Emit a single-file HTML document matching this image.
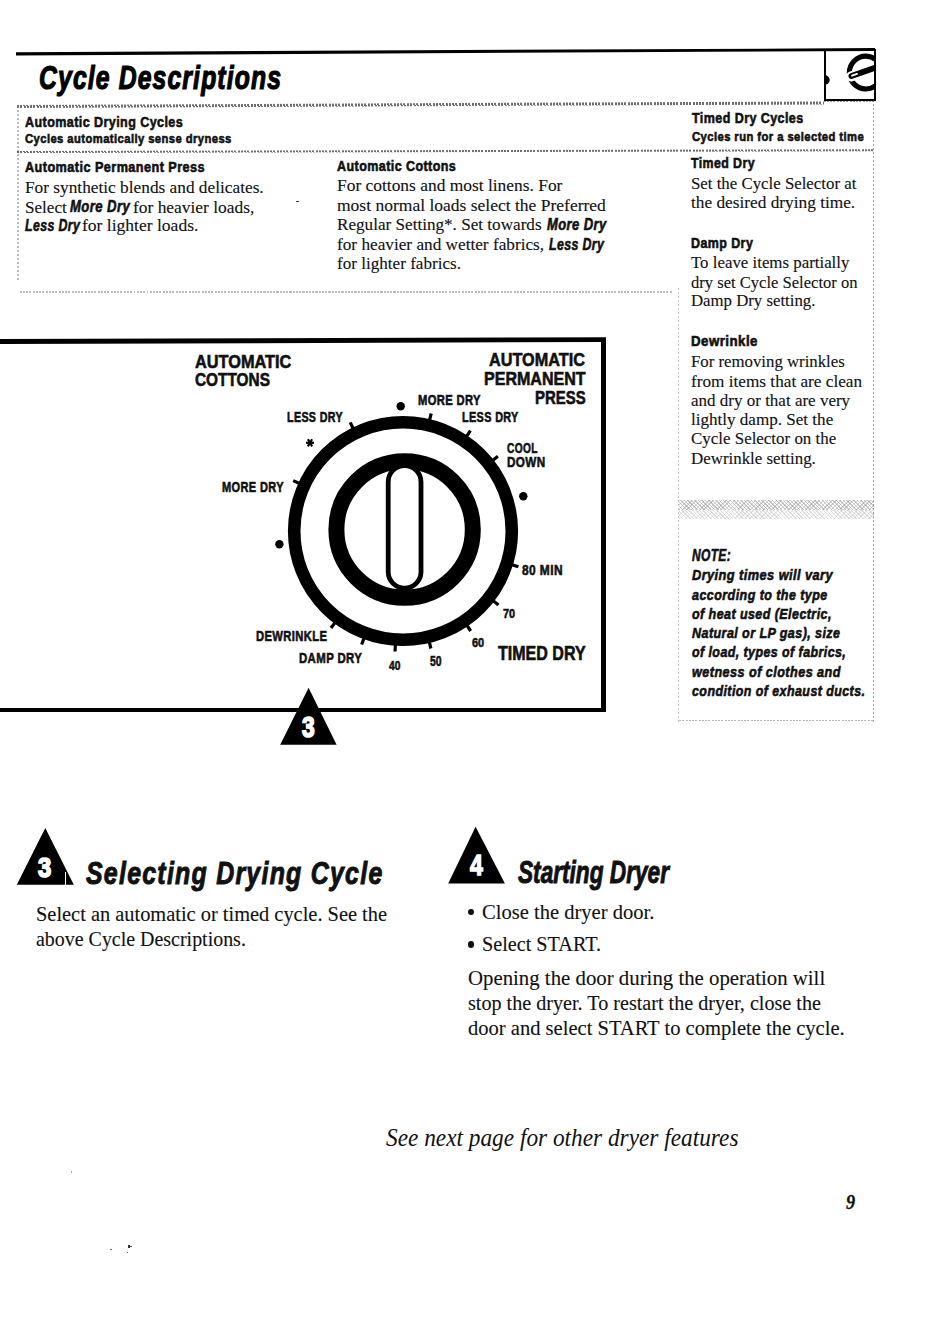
<!DOCTYPE html>
<html><head><meta charset="utf-8"><title>Cycle Descriptions</title>
<style>
html,body{margin:0;padding:0;background:#fff;}
body{width:950px;height:1343px;position:relative;overflow:hidden;}
.t{position:absolute;white-space:pre;transform-origin:0 0;}
.r{position:absolute;}
</style></head><body>
<svg class="r" style="left:0;top:0" width="950" height="120"><polygon points="16,52.2 875,48.1 875,50.9 16,55.4" fill="#000"/></svg>
<div class="r" style="left:824.2px;top:49px;width:1.6px;height:52px;background:#000;"></div>
<div class="r" style="left:873.5px;top:49px;width:2px;height:52px;background:#000;"></div>
<div class="r" style="left:824px;top:99px;width:51.5px;height:1.6px;background:#000;"></div>
<svg class="r" style="left:820px;top:45px;" width="60" height="60" viewBox="820 45 60 60">
<defs><clipPath id="cb"><rect x="826" y="50" width="48" height="49"/></clipPath></defs>
<path d="M825,75.3 A4.7,4.7 0 0 1 825,84.7 Z" fill="#000"/>
<g clip-path="url(#cb)">
<circle cx="865.8" cy="72.6" r="16.4" fill="none" stroke="#000" stroke-width="5.2"/>
<line x1="851" y1="76.5" x2="880" y2="66" stroke="#fff" stroke-width="10" stroke-linecap="round"/>
<line x1="851.5" y1="76" x2="880" y2="66" stroke="#000" stroke-width="6" stroke-linecap="round"/>
<line x1="852" y1="75.6" x2="857" y2="73.9" stroke="#fff" stroke-width="1.8" stroke-linecap="round"/>
</g></svg>
<div class="t" style="font-family:'Liberation Sans',sans-serif;font-weight:bold;font-style:italic;left:38.50px;top:62px;font-size:32.56px;line-height:32.56px;transform:scaleX(0.7597);color:#000;-webkit-text-stroke:1.2px #000;letter-spacing:1.5px;">Cycle Descriptions</div>
<div class="r" style="left:17px;top:104.5px;width:807px;height:2.5px;background:repeating-linear-gradient(90deg,rgba(60,60,60,0.75) 0 2px,transparent 2px 3px,rgba(60,60,60,0.75) 3px 5px,transparent 5px 6.5px);transform:rotate(-0.25deg);transform-origin:0 50%;"></div>
<div class="r" style="left:824px;top:100.8px;width:50px;height:1.5px;background:repeating-linear-gradient(90deg,rgba(90,90,90,0.6) 0 2px,transparent 2px 3px,rgba(90,90,90,0.6) 3px 5px,transparent 5px 6.5px);"></div>
<div class="r" style="left:17.2px;top:106px;width:1.6px;height:176px;background:repeating-linear-gradient(180deg,rgba(120,120,120,0.5) 0 2px,transparent 2px 4px);"></div>
<div class="r" style="left:17px;top:151.2px;width:857px;height:2.4px;background:repeating-linear-gradient(90deg,rgba(60,60,60,0.75) 0 2px,transparent 2px 3px,rgba(60,60,60,0.75) 3px 5px,transparent 5px 6.5px);transform:rotate(-0.12deg);transform-origin:0 50%;"></div>
<div class="r" style="left:872.6px;top:100px;width:1.8px;height:622px;background:repeating-linear-gradient(180deg,rgba(100,100,100,0.6) 0 2px,transparent 2px 4px);"></div>
<div class="r" style="left:20px;top:291px;width:652px;height:1.6px;background:repeating-linear-gradient(90deg,rgba(120,120,120,0.5) 0 2px,transparent 2px 3px,rgba(120,120,120,0.5) 3px 5px,transparent 5px 6.5px);"></div>
<div class="r" style="left:678px;top:288px;width:1.4px;height:434px;background:repeating-linear-gradient(180deg,rgba(150,150,150,0.55) 0 2px,transparent 2px 4px);"></div>
<div class="r" style="left:679px;top:719.5px;width:195px;height:1.6px;background:repeating-linear-gradient(90deg,rgba(120,120,120,0.55) 0 2px,transparent 2px 3px,rgba(120,120,120,0.55) 3px 5px,transparent 5px 6.5px);"></div>
<div class="r" style="left:679px;top:499.7px;width:195px;height:10px;background:repeating-linear-gradient(45deg,rgba(130,130,130,.42) 0 1px,transparent 1px 2.5px),repeating-linear-gradient(-45deg,rgba(140,140,140,.38) 0 1px,transparent 1px 3px);"></div>
<div class="r" style="left:679px;top:509.7px;width:195px;height:9.7px;background:repeating-linear-gradient(45deg,rgba(150,150,150,.28) 0 1px,transparent 1px 2.5px),repeating-linear-gradient(-45deg,rgba(160,160,160,.22) 0 1px,transparent 1px 3.5px);"></div>
<div class="t" style="font-family:'Liberation Sans',sans-serif;font-weight:bold;left:25.30px;top:114px;font-size:15.26px;line-height:15.26px;transform:scaleX(0.8235);color:#111;-webkit-text-stroke:0.6px #111;letter-spacing:0.5px;">Automatic Drying Cycles</div>
<div class="t" style="font-family:'Liberation Sans',sans-serif;font-weight:bold;left:25.30px;top:132px;font-size:13.08px;line-height:13.08px;transform:scaleX(0.8584);color:#111;-webkit-text-stroke:0.6px #111;letter-spacing:0.5px;">Cycles automatically sense dryness</div>
<div class="t" style="font-family:'Liberation Sans',sans-serif;font-weight:bold;left:24.70px;top:160px;font-size:14.24px;line-height:14.24px;transform:scaleX(0.8899);color:#111;-webkit-text-stroke:0.6px #111;letter-spacing:0.5px;">Automatic Permanent Press</div>
<div class="t" style="font-family:'Liberation Serif',serif;left:24.70px;top:180px;font-size:16.65px;line-height:16.65px;transform:scaleX(1.0392);color:#111;-webkit-text-stroke:0.12px #111;">For synthetic blends and delicates.</div>
<div class="t" style="font-family:'Liberation Serif',serif;left:24.70px;top:200px;font-size:16.65px;line-height:16.65px;transform:scaleX(1.0270);color:#111;-webkit-text-stroke:0.12px #111;">Select</div>
<div class="t" style="font-family:'Liberation Sans',sans-serif;font-weight:bold;font-style:italic;left:70.40px;top:198px;font-size:16.28px;line-height:16.28px;transform:scaleX(0.8069);color:#111;-webkit-text-stroke:0.6px #111;letter-spacing:0.5px;">More Dry</div>
<div class="t" style="font-family:'Liberation Serif',serif;left:133.20px;top:200px;font-size:16.65px;line-height:16.65px;transform:scaleX(1.0461);color:#111;-webkit-text-stroke:0.12px #111;">for heavier loads,</div>
<div class="t" style="font-family:'Liberation Sans',sans-serif;font-weight:bold;font-style:italic;left:24.70px;top:217px;font-size:16.28px;line-height:16.28px;transform:scaleX(0.7584);color:#111;-webkit-text-stroke:0.6px #111;letter-spacing:0.5px;">Less Dry</div>
<div class="t" style="font-family:'Liberation Serif',serif;left:82.20px;top:218px;font-size:16.65px;line-height:16.65px;transform:scaleX(1.0534);color:#111;-webkit-text-stroke:0.12px #111;">for lighter loads.</div>
<div class="t" style="font-family:'Liberation Sans',sans-serif;font-weight:bold;left:337.00px;top:158px;font-size:15.12px;line-height:15.12px;transform:scaleX(0.8298);color:#111;-webkit-text-stroke:0.6px #111;letter-spacing:0.5px;">Automatic Cottons</div>
<div class="t" style="font-family:'Liberation Serif',serif;left:337.00px;top:178px;font-size:16.65px;line-height:16.65px;transform:scaleX(1.0464);color:#111;-webkit-text-stroke:0.12px #111;">For cottons and most linens. For</div>
<div class="t" style="font-family:'Liberation Serif',serif;left:337.00px;top:198px;font-size:16.65px;line-height:16.65px;transform:scaleX(1.0522);color:#111;-webkit-text-stroke:0.12px #111;">most normal loads select the Preferred</div>
<div class="t" style="font-family:'Liberation Serif',serif;left:337.00px;top:217px;font-size:16.65px;line-height:16.65px;transform:scaleX(1.0294);color:#111;-webkit-text-stroke:0.12px #111;">Regular Setting*. Set towards</div>
<div class="t" style="font-family:'Liberation Sans',sans-serif;font-weight:bold;font-style:italic;left:546.70px;top:216px;font-size:16.28px;line-height:16.28px;transform:scaleX(0.7989);color:#111;-webkit-text-stroke:0.6px #111;letter-spacing:0.5px;">More Dry</div>
<div class="t" style="font-family:'Liberation Serif',serif;left:337.00px;top:237px;font-size:16.65px;line-height:16.65px;transform:scaleX(1.0352);color:#111;-webkit-text-stroke:0.12px #111;">for heavier and wetter fabrics,</div>
<div class="t" style="font-family:'Liberation Sans',sans-serif;font-weight:bold;font-style:italic;left:549.30px;top:236px;font-size:16.28px;line-height:16.28px;transform:scaleX(0.7598);color:#111;-webkit-text-stroke:0.6px #111;letter-spacing:0.5px;">Less Dry</div>
<div class="t" style="font-family:'Liberation Serif',serif;left:337.00px;top:256px;font-size:16.65px;line-height:16.65px;transform:scaleX(1.0278);color:#111;-webkit-text-stroke:0.12px #111;">for lighter fabrics.</div>
<div class="t" style="font-family:'Liberation Sans',sans-serif;font-weight:bold;left:692.00px;top:110px;font-size:15.26px;line-height:15.26px;transform:scaleX(0.8225);color:#111;-webkit-text-stroke:0.6px #111;letter-spacing:0.5px;">Timed Dry Cycles</div>
<div class="t" style="font-family:'Liberation Sans',sans-serif;font-weight:bold;left:692.00px;top:130px;font-size:13.08px;line-height:13.08px;transform:scaleX(0.8594);color:#111;-webkit-text-stroke:0.6px #111;letter-spacing:0.5px;">Cycles run for a selected time</div>
<div class="t" style="font-family:'Liberation Sans',sans-serif;font-weight:bold;left:691.00px;top:156px;font-size:14.97px;line-height:14.97px;transform:scaleX(0.8263);color:#111;-webkit-text-stroke:0.6px #111;letter-spacing:0.5px;">Timed Dry</div>
<div class="t" style="font-family:'Liberation Serif',serif;left:691.00px;top:176px;font-size:16.65px;line-height:16.65px;transform:scaleX(1.0107);color:#111;-webkit-text-stroke:0.12px #111;">Set the Cycle Selector at</div>
<div class="t" style="font-family:'Liberation Serif',serif;left:691.00px;top:195px;font-size:16.65px;line-height:16.65px;transform:scaleX(1.0389);color:#111;-webkit-text-stroke:0.12px #111;">the desired drying time.</div>
<div class="t" style="font-family:'Liberation Sans',sans-serif;font-weight:bold;left:691.00px;top:236px;font-size:14.54px;line-height:14.54px;transform:scaleX(0.8567);color:#111;-webkit-text-stroke:0.6px #111;letter-spacing:0.5px;">Damp Dry</div>
<div class="t" style="font-family:'Liberation Serif',serif;left:691.00px;top:255px;font-size:16.65px;line-height:16.65px;transform:scaleX(1.0128);color:#111;-webkit-text-stroke:0.12px #111;">To leave items partially</div>
<div class="t" style="font-family:'Liberation Serif',serif;left:691.00px;top:275px;font-size:16.65px;line-height:16.65px;transform:scaleX(0.9952);color:#111;-webkit-text-stroke:0.12px #111;">dry set Cycle Selector on</div>
<div class="t" style="font-family:'Liberation Serif',serif;left:691.00px;top:293px;font-size:16.65px;line-height:16.65px;transform:scaleX(1.0077);color:#111;-webkit-text-stroke:0.12px #111;">Damp Dry setting.</div>
<div class="t" style="font-family:'Liberation Sans',sans-serif;font-weight:bold;left:691.00px;top:334px;font-size:14.24px;line-height:14.24px;transform:scaleX(0.9327);color:#111;-webkit-text-stroke:0.6px #111;letter-spacing:0.5px;">Dewrinkle</div>
<div class="t" style="font-family:'Liberation Serif',serif;left:691.00px;top:354px;font-size:16.65px;line-height:16.65px;transform:scaleX(1.0079);color:#111;-webkit-text-stroke:0.12px #111;">For removing wrinkles</div>
<div class="t" style="font-family:'Liberation Serif',serif;left:691.00px;top:374px;font-size:16.65px;line-height:16.65px;transform:scaleX(1.0344);color:#111;-webkit-text-stroke:0.12px #111;">from items that are clean</div>
<div class="t" style="font-family:'Liberation Serif',serif;left:691.00px;top:393px;font-size:16.65px;line-height:16.65px;transform:scaleX(1.0218);color:#111;-webkit-text-stroke:0.12px #111;">and dry or that are very</div>
<div class="t" style="font-family:'Liberation Serif',serif;left:691.00px;top:412px;font-size:16.65px;line-height:16.65px;transform:scaleX(1.0256);color:#111;-webkit-text-stroke:0.12px #111;">lightly damp. Set the</div>
<div class="t" style="font-family:'Liberation Serif',serif;left:691.00px;top:431px;font-size:16.65px;line-height:16.65px;transform:scaleX(1.0172);color:#111;-webkit-text-stroke:0.12px #111;">Cycle Selector on the</div>
<div class="t" style="font-family:'Liberation Serif',serif;left:691.00px;top:451px;font-size:16.65px;line-height:16.65px;transform:scaleX(1.0154);color:#111;-webkit-text-stroke:0.12px #111;">Dewrinkle setting.</div>
<div class="t" style="font-family:'Liberation Sans',sans-serif;font-weight:bold;font-style:italic;left:692.00px;top:548px;font-size:15.99px;line-height:15.99px;transform:scaleX(0.7478);color:#111;-webkit-text-stroke:0.6px #111;letter-spacing:0.5px;">NOTE:</div>
<div class="t" style="font-family:'Liberation Sans',sans-serif;font-weight:bold;font-style:italic;left:692.00px;top:568px;font-size:14.54px;line-height:14.54px;transform:scaleX(0.8793);color:#111;-webkit-text-stroke:0.6px #111;letter-spacing:0.5px;">Drying times will vary</div>
<div class="t" style="font-family:'Liberation Sans',sans-serif;font-weight:bold;font-style:italic;left:692.00px;top:588px;font-size:14.54px;line-height:14.54px;transform:scaleX(0.8622);color:#111;-webkit-text-stroke:0.6px #111;letter-spacing:0.5px;">according to the type</div>
<div class="t" style="font-family:'Liberation Sans',sans-serif;font-weight:bold;font-style:italic;left:692.00px;top:607px;font-size:14.54px;line-height:14.54px;transform:scaleX(0.8607);color:#111;-webkit-text-stroke:0.6px #111;letter-spacing:0.5px;">of heat used (Electric,</div>
<div class="t" style="font-family:'Liberation Sans',sans-serif;font-weight:bold;font-style:italic;left:692.00px;top:626px;font-size:14.54px;line-height:14.54px;transform:scaleX(0.8624);color:#111;-webkit-text-stroke:0.6px #111;letter-spacing:0.5px;">Natural or LP gas), size</div>
<div class="t" style="font-family:'Liberation Sans',sans-serif;font-weight:bold;font-style:italic;left:692.00px;top:645px;font-size:14.54px;line-height:14.54px;transform:scaleX(0.8563);color:#111;-webkit-text-stroke:0.6px #111;letter-spacing:0.5px;">of load, types of fabrics,</div>
<div class="t" style="font-family:'Liberation Sans',sans-serif;font-weight:bold;font-style:italic;left:692.00px;top:665px;font-size:14.54px;line-height:14.54px;transform:scaleX(0.8715);color:#111;-webkit-text-stroke:0.6px #111;letter-spacing:0.5px;">wetness of clothes and</div>
<div class="t" style="font-family:'Liberation Sans',sans-serif;font-weight:bold;font-style:italic;left:692.00px;top:684px;font-size:14.54px;line-height:14.54px;transform:scaleX(0.8568);color:#111;-webkit-text-stroke:0.6px #111;letter-spacing:0.5px;">condition of exhaust ducts.</div>
<svg class="r" style="left:0;top:300px" width="950" height="60" viewBox="0 300 950 60"><polygon points="0,339 606,337.3 606,342 0,344" fill="#000"/></svg>
<div class="r" style="left:601px;top:337.5px;width:5px;height:374px;background:#000;"></div>
<div class="r" style="left:0px;top:707.5px;width:606px;height:4.5px;background:#000;"></div>
<svg class="r" style="left:0;top:0" width="950" height="800" viewBox="0 0 950 800">
<circle cx="403" cy="531" r="108.8" fill="none" stroke="#000" stroke-width="12.6"/>
<circle cx="404.6" cy="529.5" r="68.2" fill="none" stroke="#000" stroke-width="16"/>
<rect x="388.2" y="465.6" width="32.8" height="122.6" rx="16.4" ry="16.4" fill="#fff" stroke="#000" stroke-width="4.8"/>
<line x1="354.0" y1="430.3" x2="350.2" y2="422.4" stroke="#000" stroke-width="3.2"/>
<line x1="429.1" y1="422.1" x2="431.2" y2="413.5" stroke="#000" stroke-width="3.2"/>
<line x1="465.5" y1="438.0" x2="470.4" y2="430.7" stroke="#000" stroke-width="3.2"/>
<line x1="491.0" y1="461.7" x2="497.9" y2="456.3" stroke="#000" stroke-width="3.2"/>
<line x1="301.2" y1="484.3" x2="293.2" y2="480.6" stroke="#000" stroke-width="3.2"/>
<line x1="510.0" y1="564.1" x2="518.4" y2="566.7" stroke="#000" stroke-width="3.2"/>
<line x1="491.6" y1="599.6" x2="498.5" y2="605.0" stroke="#000" stroke-width="3.2"/>
<line x1="465.8" y1="623.7" x2="470.7" y2="631.0" stroke="#000" stroke-width="3.2"/>
<line x1="336.3" y1="620.9" x2="331.0" y2="628.0" stroke="#000" stroke-width="3.2"/>
<line x1="364.7" y1="636.3" x2="361.7" y2="644.5" stroke="#000" stroke-width="3.2"/>
<line x1="395.5" y1="642.8" x2="395.0" y2="651.5" stroke="#000" stroke-width="3.2"/>
<line x1="428.8" y1="640.0" x2="430.9" y2="648.5" stroke="#000" stroke-width="3.2"/>
<circle cx="400.7" cy="406.2" r="4.2" fill="#000"/>
<circle cx="523.3" cy="496.3" r="4.2" fill="#000"/>
<circle cx="279.4" cy="544.3" r="4.2" fill="#000"/>
<polygon points="308.6,687.7 336.6,744.7 280.2,744.7" fill="#000"/>
</svg>
<div class="t" style="font-family:'Liberation Sans',sans-serif;font-weight:bold;left:302.00px;top:712px;font-size:29.8px;line-height:29.8px;transform:scaleX(0.7674);color:#fff;-webkit-text-stroke:1.7px #fff;">3</div>
<div class="t" style="font-family:'Liberation Sans',sans-serif;font-weight:bold;left:194.70px;top:354px;font-size:17.73px;line-height:17.73px;transform:scaleX(0.9204);color:#111;-webkit-text-stroke:0.6px #111;">AUTOMATIC</div>
<div class="t" style="font-family:'Liberation Sans',sans-serif;font-weight:bold;left:194.70px;top:371px;font-size:18.6px;line-height:18.6px;transform:scaleX(0.8278);color:#111;-webkit-text-stroke:0.6px #111;">COTTONS</div>
<div class="t" style="font-family:'Liberation Sans',sans-serif;font-weight:bold;left:489.30px;top:351px;font-size:18.9px;line-height:18.9px;transform:scaleX(0.8598);color:#111;-webkit-text-stroke:0.6px #111;">AUTOMATIC</div>
<div class="t" style="font-family:'Liberation Sans',sans-serif;font-weight:bold;left:483.60px;top:370px;font-size:18.9px;line-height:18.9px;transform:scaleX(0.8496);color:#111;-webkit-text-stroke:0.6px #111;">PERMANENT</div>
<div class="t" style="font-family:'Liberation Sans',sans-serif;font-weight:bold;left:534.70px;top:389px;font-size:18.6px;line-height:18.6px;transform:scaleX(0.8025);color:#111;-webkit-text-stroke:0.6px #111;">PRESS</div>
<div class="t" style="font-family:'Liberation Sans',sans-serif;font-weight:bold;left:286.60px;top:411px;font-size:13.95px;line-height:13.95px;transform:scaleX(0.7643);color:#111;-webkit-text-stroke:0.6px #111;letter-spacing:0.5px;">LESS DRY</div>
<div class="t" style="font-family:'Liberation Sans',sans-serif;font-weight:bold;left:222.40px;top:480px;font-size:14.54px;line-height:14.54px;transform:scaleX(0.7572);color:#111;-webkit-text-stroke:0.6px #111;letter-spacing:0.5px;">MORE DRY</div>
<div class="t" style="font-family:'Liberation Sans',sans-serif;font-weight:bold;left:417.60px;top:393px;font-size:14.24px;line-height:14.24px;transform:scaleX(0.7850);color:#111;-webkit-text-stroke:0.6px #111;letter-spacing:0.5px;">MORE DRY</div>
<div class="t" style="font-family:'Liberation Sans',sans-serif;font-weight:bold;left:461.80px;top:410px;font-size:14.54px;line-height:14.54px;transform:scaleX(0.7450);color:#111;-webkit-text-stroke:0.6px #111;letter-spacing:0.5px;">LESS DRY</div>
<div class="t" style="font-family:'Liberation Sans',sans-serif;font-weight:bold;left:506.50px;top:441px;font-size:14.54px;line-height:14.54px;transform:scaleX(0.7003);color:#111;-webkit-text-stroke:0.6px #111;letter-spacing:0.5px;">COOL</div>
<div class="t" style="font-family:'Liberation Sans',sans-serif;font-weight:bold;left:506.50px;top:455px;font-size:14.83px;line-height:14.83px;transform:scaleX(0.7876);color:#111;-webkit-text-stroke:0.6px #111;letter-spacing:0.5px;">DOWN</div>
<div class="t" style="font-family:'Liberation Sans',sans-serif;font-weight:bold;left:522.20px;top:563px;font-size:14.39px;line-height:14.39px;transform:scaleX(0.8303);color:#111;-webkit-text-stroke:0.6px #111;letter-spacing:0.5px;">80 MIN</div>
<div class="t" style="font-family:'Liberation Sans',sans-serif;font-weight:bold;left:503.40px;top:607px;font-size:13.66px;line-height:13.66px;transform:scaleX(0.7961);color:#111;-webkit-text-stroke:0.6px #111;">70</div>
<div class="t" style="font-family:'Liberation Sans',sans-serif;font-weight:bold;left:471.50px;top:636px;font-size:13.66px;line-height:13.66px;transform:scaleX(0.8026);color:#111;-webkit-text-stroke:0.6px #111;">60</div>
<div class="t" style="font-family:'Liberation Sans',sans-serif;font-weight:bold;left:498.00px;top:644px;font-size:19.33px;line-height:19.33px;transform:scaleX(0.8297);color:#111;-webkit-text-stroke:0.6px #111;">TIMED DRY</div>
<div class="t" style="font-family:'Liberation Sans',sans-serif;font-weight:bold;left:255.70px;top:629px;font-size:14.83px;line-height:14.83px;transform:scaleX(0.7572);color:#111;-webkit-text-stroke:0.6px #111;letter-spacing:0.5px;">DEWRINKLE</div>
<div class="t" style="font-family:'Liberation Sans',sans-serif;font-weight:bold;left:298.60px;top:651px;font-size:14.83px;line-height:14.83px;transform:scaleX(0.7692);color:#111;-webkit-text-stroke:0.6px #111;letter-spacing:0.5px;">DAMP DRY</div>
<div class="t" style="font-family:'Liberation Sans',sans-serif;font-weight:bold;left:388.90px;top:659px;font-size:13.52px;line-height:13.52px;transform:scaleX(0.7600);color:#111;-webkit-text-stroke:0.6px #111;">40</div>
<div class="t" style="font-family:'Liberation Sans',sans-serif;font-weight:bold;left:430.40px;top:654px;font-size:14.1px;line-height:14.1px;transform:scaleX(0.7389);color:#111;-webkit-text-stroke:0.6px #111;">50</div>
<svg class="r" style="left:300px;top:433px" width="20" height="20" viewBox="300 433 20 20"><g stroke="#000" stroke-width="2.2" stroke-linecap="butt"><line x1="306" y1="442.8" x2="314" y2="442.8"/><line x1="307.9" y1="439.2" x2="312.1" y2="446.4"/><line x1="307.9" y1="446.4" x2="312.1" y2="439.2"/></g></svg>
<svg class="r" style="left:0;top:800px" width="950" height="120" viewBox="0 800 950 120">
<polygon points="45.3,828.1 73.8,884.8 16.8,884.8" fill="#000"/>
<polygon points="475.6,826.8 504.9,883.5 448.2,883.5" fill="#000"/>
</svg>
<div class="t" style="font-family:'Liberation Sans',sans-serif;font-weight:bold;left:38.40px;top:854px;font-size:27.76px;line-height:27.76px;transform:scaleX(0.8608);color:#fff;-webkit-text-stroke:1.7px #fff;">3</div>
<div class="r" style="left:65.3px;top:872px;width:1px;height:13px;background:#fff;"></div>
<div class="t" style="font-family:'Liberation Sans',sans-serif;font-weight:bold;left:469.60px;top:851px;font-size:28.63px;line-height:28.63px;transform:scaleX(0.8025);color:#fff;-webkit-text-stroke:1.5px #fff;">4</div>
<div class="t" style="font-family:'Liberation Sans',sans-serif;font-weight:bold;font-style:italic;left:85.60px;top:858px;font-size:31.83px;line-height:31.83px;transform:scaleX(0.7826);color:#111;-webkit-text-stroke:1.0px #111;letter-spacing:1.6px;">Selecting Drying Cycle</div>
<div class="t" style="font-family:'Liberation Serif',serif;left:36.00px;top:904px;font-size:21.69px;line-height:21.69px;transform:scaleX(0.9402);color:#111;-webkit-text-stroke:0.12px #111;">Select an automatic or timed cycle. See the</div>
<div class="t" style="font-family:'Liberation Serif',serif;left:36.00px;top:929px;font-size:21.69px;line-height:21.69px;transform:scaleX(0.9194);color:#111;-webkit-text-stroke:0.12px #111;">above Cycle Descriptions.</div>
<div class="t" style="font-family:'Liberation Sans',sans-serif;font-weight:bold;font-style:italic;left:518.00px;top:856px;font-size:32.27px;line-height:32.27px;transform:scaleX(0.7015);color:#111;-webkit-text-stroke:1.0px #111;">Starting Dryer</div>
<div class="r" style="left:467.6px;top:908.6px;width:6.9px;height:6.9px;border-radius:50%;background:#111"></div>
<div class="t" style="font-family:'Liberation Serif',serif;left:482.40px;top:902px;font-size:21.69px;line-height:21.69px;transform:scaleX(0.9473);color:#111;-webkit-text-stroke:0.12px #111;">Close the dryer door.</div>
<div class="r" style="left:467.5px;top:940.8px;width:6.9px;height:6.9px;border-radius:50%;background:#111"></div>
<div class="t" style="font-family:'Liberation Serif',serif;left:482.40px;top:934px;font-size:21.69px;line-height:21.69px;transform:scaleX(0.9308);color:#111;-webkit-text-stroke:0.12px #111;">Select START.</div>
<div class="t" style="font-family:'Liberation Serif',serif;left:468.10px;top:968px;font-size:21.69px;line-height:21.69px;transform:scaleX(0.9596);color:#111;-webkit-text-stroke:0.12px #111;">Opening the door during the operation will</div>
<div class="t" style="font-family:'Liberation Serif',serif;left:468.10px;top:993px;font-size:21.69px;line-height:21.69px;transform:scaleX(0.9281);color:#111;-webkit-text-stroke:0.12px #111;">stop the dryer. To restart the dryer, close the</div>
<div class="t" style="font-family:'Liberation Serif',serif;left:468.10px;top:1018px;font-size:21.69px;line-height:21.69px;transform:scaleX(0.9472);color:#111;-webkit-text-stroke:0.12px #111;">door and select START to complete the cycle.</div>
<div class="t" style="font-family:'Liberation Serif',serif;font-style:italic;left:385.80px;top:1125px;font-size:25.35px;line-height:25.35px;transform:scaleX(0.9195);color:#111;-webkit-text-stroke:0.0px #111;">See next page for other dryer features</div>
<div class="t" style="font-family:'Liberation Serif',serif;font-weight:bold;font-style:italic;left:845.90px;top:1192px;font-size:20.62px;line-height:20.62px;transform:scaleX(0.8835);color:#111;-webkit-text-stroke:0.3px #111;">9</div>
<div class="r" style="left:296px;top:200.5px;width:2.6px;height:1.8px;border-radius:50%;background:#222"></div>
<div class="r" style="left:127.8px;top:1244.5px;width:2px;height:3px;background:#333"></div>
<div class="r" style="left:129.5px;top:1245.5px;width:2.5px;height:1.3px;background:#555"></div>
<div class="r" style="left:126.5px;top:1251.5px;width:1.3px;height:1.5px;background:#666"></div>
<div class="r" style="left:109.5px;top:1248.5px;width:2px;height:1.2px;background:#777"></div>
<div class="r" style="left:70.8px;top:1170.5px;width:0.8px;height:2px;background:#aaa"></div>
</body></html>
